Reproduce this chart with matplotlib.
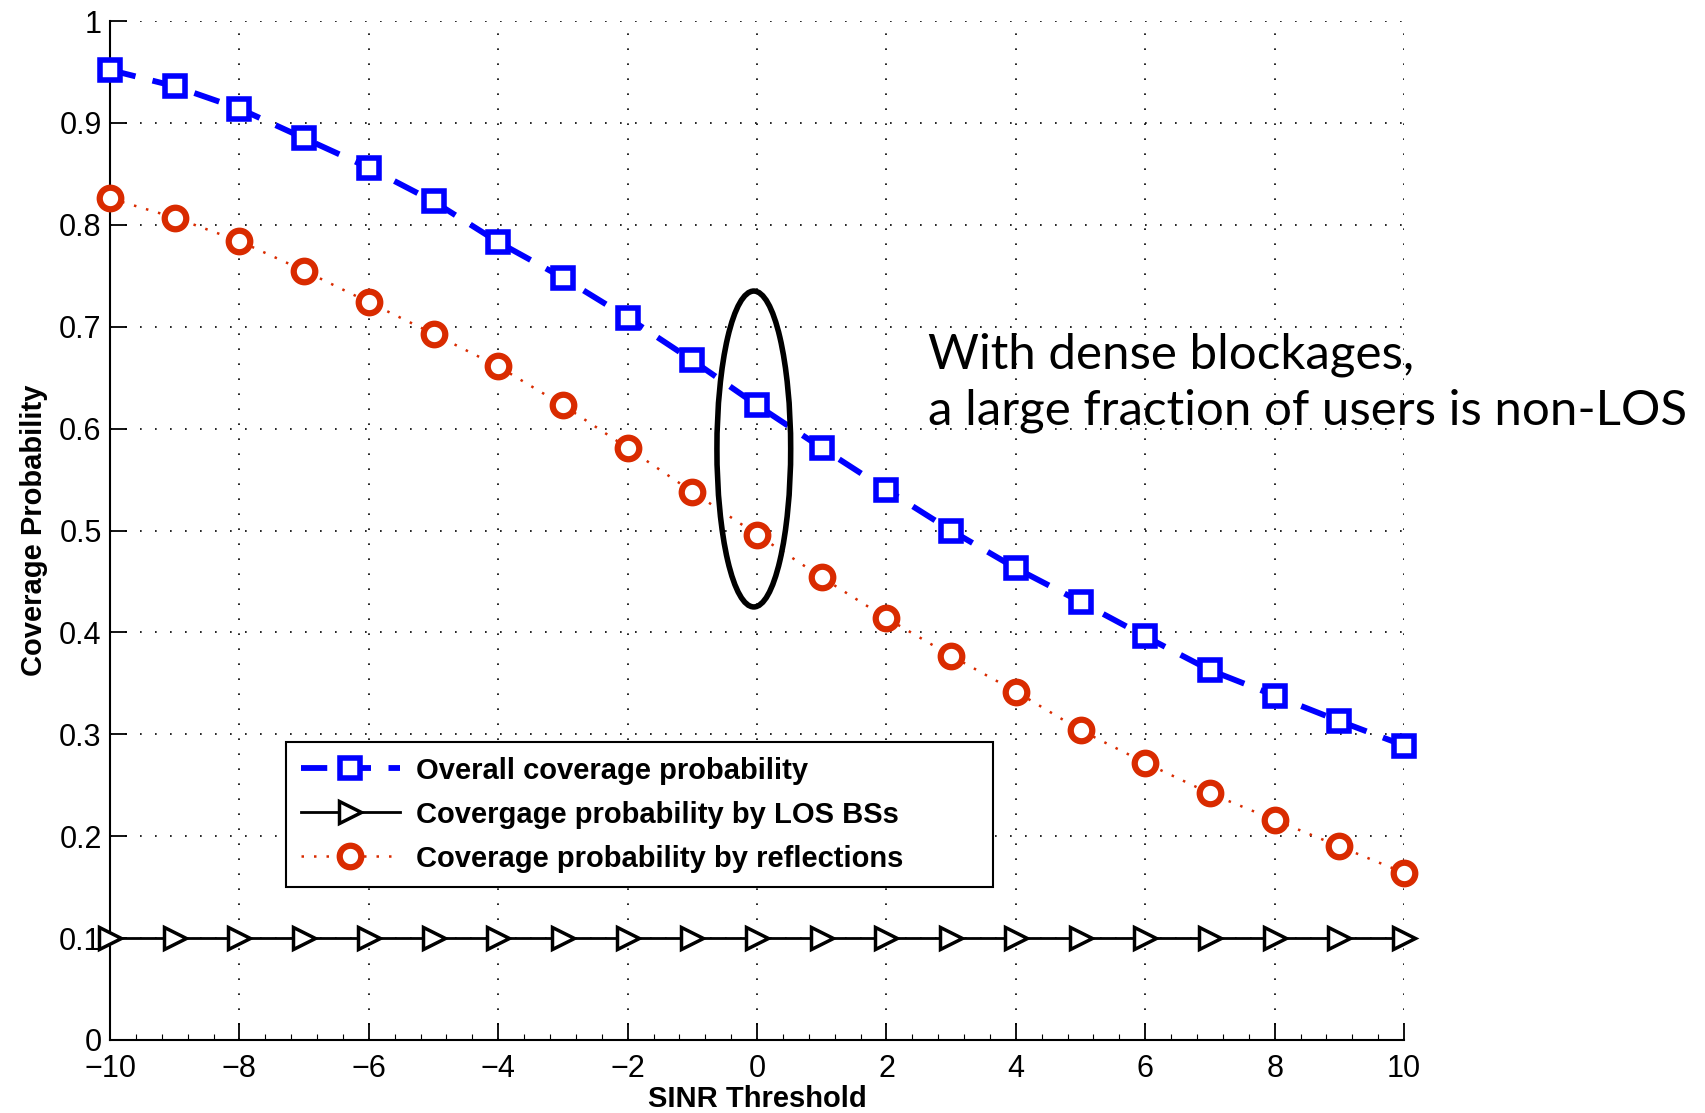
import numpy as np
import matplotlib
matplotlib.use("Agg")
import matplotlib.pyplot as plt
from matplotlib.patches import Ellipse

# данные
sinr = np.arange(-10, 11)
p_overall = [0.952, 0.936, 0.914, 0.885, 0.856, 0.823, 0.783, 0.748, 0.709, 0.667, 0.623,
             0.581, 0.540, 0.500, 0.463, 0.430, 0.396, 0.363, 0.338, 0.313, 0.289]
p_los = [0.1] * 21
p_refl = [0.826, 0.807, 0.784, 0.755, 0.724, 0.693, 0.661, 0.623, 0.581, 0.538, 0.496,
          0.454, 0.414, 0.377, 0.342, 0.304, 0.272, 0.242, 0.216, 0.190, 0.164]
labels = ["Overall coverage probability", "Covergage probability by LOS BSs",
          "Coverage probability by reflections"]
note = "With dense blockages,\na large fraction of users is non-LOS"

plt.rcParams["font.family"] = ["Liberation Sans", "DejaVu Sans"]

fig = plt.figure(figsize=(17.06, 11.13), dpi=100)
ax = fig.add_axes([0.0645, 0.0656, 0.7585, 0.9155])

ax.plot(sinr, p_overall, color="#0000ff", ls=(0, (4.5, 3)), lw=4.2, marker="s", ms=14,
        mfc="white", mec="#0000ff", mew=4, clip_on=False, label=labels[0], zorder=4)
ax.plot(sinr, p_los, color="black", ls="-", lw=2, marker=">", ms=16,
        mfc="white", mec="black", mew=2.5, clip_on=False, label=labels[1], zorder=3)
ax.plot(sinr, p_refl, color="#d92b00", ls=(0, (1, 4)), lw=1.8, marker="o", ms=15.5,
        mfc="white", mec="#d92b00", mew=4.5, clip_on=False, label=labels[2], zorder=3)

ax.add_patch(Ellipse((-0.05, 0.58), 1.14, 0.31, fill=False, ec="black", lw=4, zorder=5))

ax.set_xlim(-10, 10)
ax.set_ylim(0, 1)
ax.set_xticks(np.arange(-10, 11, 2))
ax.set_yticks(np.arange(0, 1.01, 0.1))
ax.set_yticklabels(["0", "0.1", "0.2", "0.3", "0.4", "0.5", "0.6", "0.7", "0.8", "0.9", "1"])
ax.set_xticks(np.arange(-10, 10.01, 0.4), minor=True)
ax.tick_params(which="major", direction="in", length=12, width=1.3, labelsize=22)
ax.tick_params(axis="x", which="major", pad=10)
ax.tick_params(axis="y", which="major", pad=6)
ax.tick_params(which="minor", axis="x", direction="in", length=4, width=0.8)
ax.grid(True, which="major", ls=(0, (1, 8)), color="black", lw=1.2)

for s in ["top", "right"]:
    ax.spines[s].set_visible(False)
for s in ["left", "bottom"]:
    ax.spines[s].set_linewidth(1.5)

ax.set_xlabel("SINR Threshold", fontsize=21, fontweight="bold", labelpad=1)
ax.set_ylabel("Coverage Probability", fontsize=21, fontweight="bold", labelpad=8)

leg = ax.legend(loc="upper left", bbox_to_anchor=(0.1676, 0.0, 0.4144, 0.3333),
                bbox_transform=fig.transFigure, mode="expand",
                borderaxespad=0, fancybox=False, edgecolor="black",
                prop={"weight": "bold", "size": 21}, handlelength=3.4, labelspacing=0.55,
                borderpad=0.5, handletextpad=0.55, framealpha=1)
leg.get_frame().set_linewidth(1.5)

fig.text(0.544, 0.656, note, fontsize=35.5, family="Lato", va="center", ha="left",
         linespacing=1.32)

fig.savefig("out.png", dpi=100)
